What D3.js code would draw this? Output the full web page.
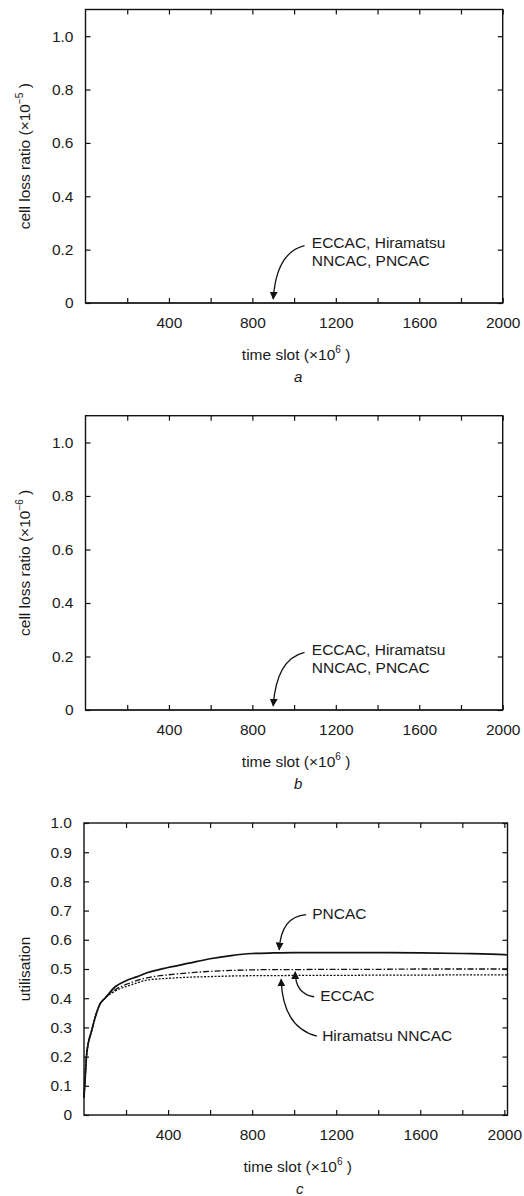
<!DOCTYPE html>
<html>
<head>
<meta charset="utf-8">
<script src="https://cdn.jsdelivr.net/npm/d3@7"></script>
<style>
  body { margin: 0; background: #fff; }
  text { font-family: "Liberation Sans", Arial, sans-serif; fill: #1a1a1a; }
</style>
</head>
<body>
<div id="chart"></div>
<script>
// ---- data ----
// x axis: ticks every 200, labels every 400
const xTickValues = [200, 400, 600, 800, 1000, 1200, 1400, 1600, 1800, 2000];
const xTickLabels = ["", "400", "", "800", "", "1200", "", "1600", "", "2000"];

// cell loss ratio axes (panels a, b)
const clrTickValues = [0, 0.2, 0.4, 0.6, 0.8, 1.0];
const clrTickLabels = ["0", "0.2", "0.4", "0.6", "0.8", "1.0"];

// utilisation axis (panel c)
const utilTickValues = [0, 0.1, 0.2, 0.3, 0.4, 0.5, 0.6, 0.7, 0.8, 0.9, 1.0];
const utilTickLabels = ["0", "0.1", "0.2", "0.3", "0.4", "0.5", "0.6", "0.7", "0.8", "0.9", "1.0"];

// cell loss ratio: all schemes stay at zero
const clrTime = [0, 2000];
const clrA = [0, 0];
const clrB = [0, 0];

// utilisation (panel c)
const utilTime  = [0, 5, 13, 37, 76, 100, 150, 200, 250, 300, 400, 500, 600, 700, 800, 900, 1000, 1200, 1400, 1600, 1800, 2000, 2015];
const pncac     = [0.06, 0.12, 0.21, 0.29, 0.38, 0.40, 0.44, 0.46, 0.473, 0.487, 0.505, 0.52, 0.535, 0.546, 0.553, 0.555, 0.556, 0.556, 0.556, 0.555, 0.553, 0.549, 0.548];
const eccac     = [0.06, 0.12, 0.21, 0.29, 0.38, 0.40, 0.43, 0.447, 0.46, 0.47, 0.48, 0.487, 0.492, 0.495, 0.497, 0.498, 0.498, 0.499, 0.499, 0.50, 0.50, 0.50, 0.50];
const hiramatsu = [0.06, 0.12, 0.21, 0.29, 0.38, 0.40, 0.425, 0.44, 0.452, 0.462, 0.468, 0.472, 0.474, 0.476, 0.477, 0.477, 0.478, 0.478, 0.479, 0.479, 0.48, 0.48, 0.48];

// annotations (data units): text position, arrow start, control point, arrow tip
const clrNote = { lines: ["ECCAC, Hiramatsu", "NNCAC, PNCAC"], text: [1085, 0.222], from: [1050, 0.215], ctrl: [915, 0.19], to: [900, 0.015] };
const utilNotes = [
  { lines: ["PNCAC"], text: [1086, 0.685], from: [1057, 0.686], ctrl: [938, 0.68], to: [929, 0.566] },
  { lines: ["ECCAC"], text: [1124, 0.404], from: [1095, 0.405], ctrl: [1005, 0.415], to: [1005, 0.49] },
  { lines: ["Hiramatsu NNCAC"], text: [1133, 0.267], from: [1108, 0.27], ctrl: [945, 0.3], to: [938, 0.465] }
];

// ---- drawing ----
const svg = d3.select("#chart").append("svg")
  .attr("width", 524).attr("height", 1196)
  .style("display", "block");

svg.append("defs").append("marker")
  .attr("id", "arrow")
  .attr("viewBox", "0 0 10 10")
  .attr("refX", 9).attr("refY", 5)
  .attr("markerWidth", 8).attr("markerHeight", 8)
  .attr("markerUnits", "userSpaceOnUse")
  .attr("orient", "auto")
  .append("path")
  .attr("d", "M0,0 L10,5 L0,10 Z")
  .attr("fill", "#111");

function drawPanel(p) {
  const x = d3.scaleLinear().domain(p.xDomain).range([p.left, p.right]);
  const y = d3.scaleLinear().domain(p.yDomain).range([p.bottom, p.top]);
  const g = svg.append("g");

  // frame
  g.append("rect")
    .attr("x", p.left).attr("y", p.top)
    .attr("width", p.right - p.left).attr("height", p.bottom - p.top)
    .attr("fill", "none").attr("stroke", "#111").attr("stroke-width", 1.4);

  // axes, ticks point inward
  const bottom = g.append("g").attr("transform", "translate(0," + p.bottom + ")")
    .call(d3.axisBottom(x).tickValues(xTickValues).tickFormat((d, i) => xTickLabels[i])
      .tickSizeInner(-5).tickSizeOuter(0).tickPadding(14));
  const top = g.append("g").attr("transform", "translate(0," + p.top + ")")
    .call(d3.axisTop(x).tickValues(xTickValues).tickFormat("").tickSizeInner(-5).tickSizeOuter(0));
  const left = g.append("g").attr("transform", "translate(" + p.left + ",0)")
    .call(d3.axisLeft(y).tickValues(p.yTicks).tickFormat((d, i) => p.yLabels[i])
      .tickSizeInner(-5).tickSizeOuter(0).tickPadding(12));
  const right = g.append("g").attr("transform", "translate(" + p.right + ",0)")
    .call(d3.axisRight(y).tickValues(p.yTicks).tickFormat("").tickSizeInner(-5).tickSizeOuter(0));
  [bottom, top, left, right].forEach(a => {
    a.select(".domain").remove();
    a.selectAll(".tick line").attr("stroke", "#111").attr("stroke-width", 1.2);
    a.selectAll("text").style("font-size", "15.5px").attr("fill", "#1a1a1a")
      .style("font-family", "'Liberation Sans', Arial, sans-serif");
  });

  // series
  p.series.forEach(s => {
    g.append("path")
      .datum(s.values.map((v, i) => [s.time[i], v]))
      .attr("fill", "none")
      .attr("stroke", "#111")
      .attr("stroke-width", s.width || 1.5)
      .attr("stroke-dasharray", s.dash || null)
      .attr("d", d3.line().x(d => x(d[0])).y(d => y(d[1])).curve(d3.curveMonotoneX));
  });

  // annotations
  p.notes.forEach(n => {
    g.append("path")
      .attr("d", "M" + x(n.from[0]) + "," + y(n.from[1]) +
        " Q" + x(n.ctrl[0]) + "," + y(n.ctrl[1]) + " " + x(n.to[0]) + "," + y(n.to[1]))
      .attr("fill", "none").attr("stroke", "#111").attr("stroke-width", 1.3)
      .attr("marker-end", "url(#arrow)");
    n.lines.forEach((line, i) => {
      g.append("text")
        .attr("x", x(n.text[0])).attr("y", y(n.text[1]) + i * 18)
        .attr("dominant-baseline", "middle")
        .style("font-size", "15.5px")
        .text(line);
    });
  });

  // x axis title
  const cx = (p.left + p.right) / 2;
  const xt = g.append("text")
    .attr("x", cx + 2).attr("y", p.bottom + 57)
    .attr("text-anchor", "middle")
    .style("font-size", "15.5px");
  xt.append("tspan").text("time slot (\u00d710");
  xt.append("tspan").attr("dy", -7).style("font-size", "10px").text("6");
  xt.append("tspan").attr("dy", 7).text(" )");

  // panel letter
  g.append("text")
    .attr("x", cx + 4).attr("y", p.bottom + 79)
    .attr("text-anchor", "middle")
    .style("font-size", "15px").style("font-style", "italic")
    .text(p.letter);

  // y axis title
  const yt = g.append("text")
    .attr("transform", "translate(30," + ((p.top + p.bottom) / 2) + ") rotate(-90)")
    .attr("text-anchor", "middle")
    .style("font-size", "15.5px");
  yt.append("tspan").text(p.yTitle);
  if (p.yExp) {
    yt.append("tspan").attr("dy", -7).style("font-size", "10px").text(p.yExp);
    yt.append("tspan").attr("dy", 7).text(" )");
  }
}

drawPanel({
  left: 85.5, right: 502.7, top: 9.5, bottom: 303,
  xDomain: [0, 2000], yDomain: [0, 1.1],
  yTicks: clrTickValues, yLabels: clrTickLabels,
  yTitle: "cell loss ratio (\u00d710", yExp: "\u22125", letter: "a",
  series: [{ time: clrTime, values: clrA, width: 1.2 }],
  notes: [clrNote]
});

drawPanel({
  left: 85.5, right: 502.7, top: 415.7, bottom: 710,
  xDomain: [0, 2000], yDomain: [0, 1.1],
  yTicks: clrTickValues, yLabels: clrTickLabels,
  yTitle: "cell loss ratio (\u00d710", yExp: "\u22126", letter: "b",
  series: [{ time: clrTime, values: clrB, width: 1.2 }],
  notes: [clrNote]
});

drawPanel({
  left: 84, right: 507.5, top: 823, bottom: 1115,
  xDomain: [0, 2015], yDomain: [0, 1.0],
  yTicks: utilTickValues, yLabels: utilTickLabels,
  yTitle: "utilisation", yExp: null, letter: "c",
  series: [
    { time: utilTime, values: hiramatsu, dash: "2,1.5", width: 1.3 },
    { time: utilTime, values: eccac, dash: "6,2,1.5,2", width: 1.3 },
    { time: utilTime, values: pncac, width: 1.7 }
  ],
  notes: utilNotes
});
</script>
</body>
</html>
